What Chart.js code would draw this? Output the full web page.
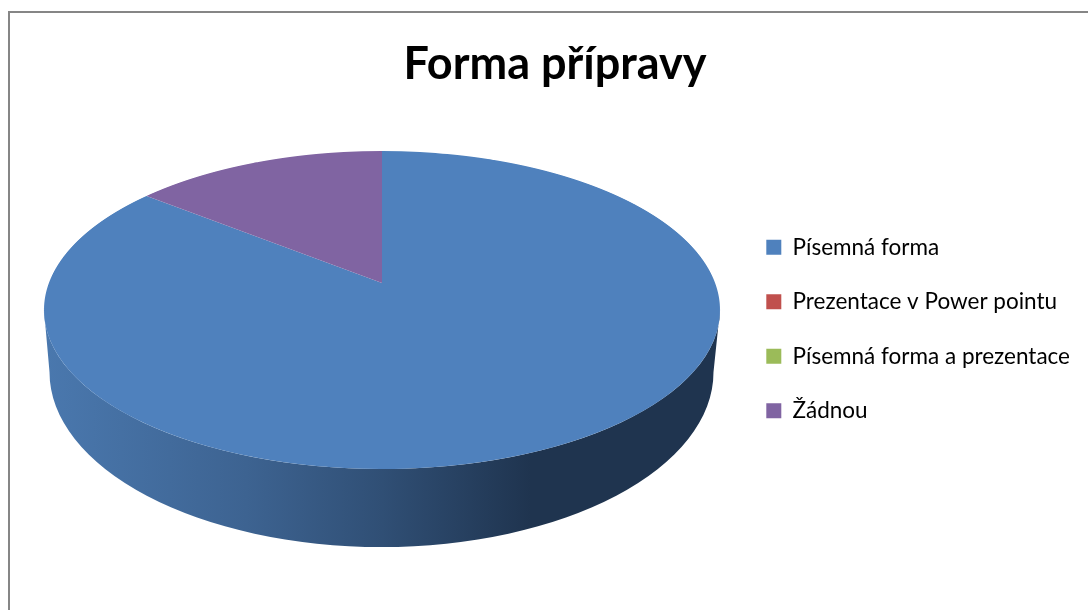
<!DOCTYPE html>
<html lang="cs">
<head>
    <meta charset="UTF-8">
    <title>Forma přípravy</title>
    <script src="https://cdn.jsdelivr.net/npm/chart.js"></script>
    <style>
        body { margin: 0; background: #fff; }
        canvas { display: block; }
    </style>
</head>
<body>
    <canvas id="pieChart" width="1088" height="610"></canvas>
    <script>
        const categories = ["Písemná forma", "Prezentace v Power pointu", "Písemná forma a prezentace", "Žádnou"];
        const values = [6, 0, 0, 1];
        const colors = ["#4f81bd", "#c0504d", "#9bbb59", "#8064a2"];
        const chartTitle = "Forma přípravy";

        // where the tilted disc lands on the page (top face, then the bottom rim)
        const disc = { cx: 382, tipY: 283, top: 151, bottom: 469, halfWidth: 338 };
        const rim = { cx: 381.5, cy: 372, rx: 332, ry: 175 };

        // perspective: y' = a*Y / (1 + k*Y), x' = b*X / (1 + k*Y) on the unit disc
        const upper = disc.tipY - disc.top;
        const lower = disc.bottom - disc.tipY;
        const k = (upper - lower) / (upper + lower);
        const a = upper * (1 - k);
        const b = disc.halfWidth * Math.sqrt(1 - k * k);

        function drawWall(ctx) {
            const g = ctx.createLinearGradient(disc.cx - disc.halfWidth, 0, disc.cx + disc.halfWidth, 0);
            g.addColorStop(0, "#4a78ae");
            g.addColorStop(0.3, "#3d6391");
            g.addColorStop(0.5, "#304f75");
            g.addColorStop(0.72, "#1f344f");
            g.addColorStop(1, "#1f344f");
            const midY = (disc.top + disc.bottom) / 2;
            const midH = (disc.bottom - disc.top) / 2;
            ctx.save();
            ctx.fillStyle = g;
            ctx.beginPath();
            ctx.ellipse(rim.cx, rim.cy, rim.rx, rim.ry, 0, 0, Math.PI);
            ctx.lineTo(disc.cx - disc.halfWidth, midY);
            ctx.ellipse(disc.cx, midY, disc.halfWidth, midH, 0, Math.PI, 0, true);
            ctx.closePath();
            ctx.fill();
            ctx.restore();
        }

        const tiltedDisc = {
            id: "tiltedDisc",
            beforeDatasetDraw(chart, args) {
                const ctx = chart.ctx;
                const arc = args.meta.data[0];
                const R = arc.outerRadius;
                drawWall(ctx);
                // the library draws the round pie once per pixel row, each through that row's scale
                for (let row = disc.top - 1; row <= disc.bottom + 1; row++) {
                    const d = row + 0.5 - disc.tipY;
                    const Y = d / (a - k * d);
                    const w = 1 + k * Y;
                    ctx.save();
                    ctx.beginPath();
                    ctx.rect(0, row, chart.width, 1);
                    ctx.clip();
                    ctx.setTransform(b / w / R, 0, 0, a / (w * w) / R,
                        disc.cx - arc.x * (b / w / R),
                        row + 0.5 - (arc.y + Y * R) * (a / (w * w) / R));
                    args.meta.controller.draw();
                    ctx.restore();
                }
                return false;
            }
        };

        const chartFrame = {
            id: "chartFrame",
            beforeDraw(chart) {
                const ctx = chart.ctx;
                ctx.save();
                ctx.fillStyle = "#868686";
                ctx.fillRect(8, 11, chart.width - 8, 2);
                ctx.fillRect(8, 11, 2, chart.height - 11);
                ctx.restore();
            }
        };

        new Chart(document.getElementById("pieChart"), {
            type: "pie",
            data: {
                labels: categories,
                datasets: [{ data: values, backgroundColor: colors, borderWidth: 0 }]
            },
            options: {
                responsive: false,
                animation: false,
                layout: { padding: { left: 30, right: 8, top: 37, bottom: -11 } },
                plugins: {
                    tooltip: { enabled: false },
                    title: {
                        display: true,
                        text: chartTitle,
                        color: "#000",
                        font: { family: "Lato", size: 45, weight: "bold" },
                        padding: { top: 0, bottom: 59 }
                    },
                    legend: {
                        position: "right",
                        labels: {
                            color: "#000",
                            font: { family: "Lato", size: 22.5 },
                            boxWidth: 15,
                            boxHeight: 15,
                            padding: 32
                        }
                    }
                }
            },
            plugins: [chartFrame, tiltedDisc]
        });
    </script>
</body>
</html>
